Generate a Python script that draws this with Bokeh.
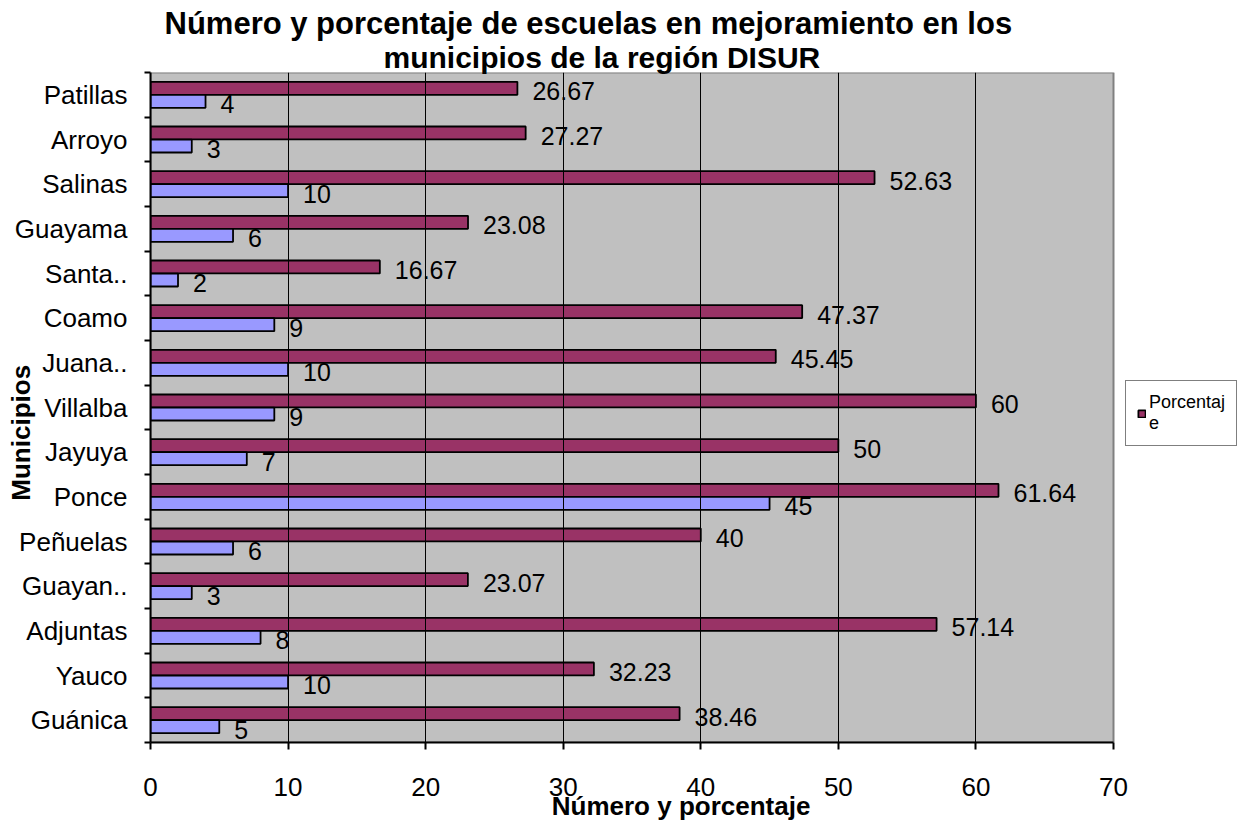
from bokeh.plotting import figure
from bokeh.models import (ColumnDataSource, FixedTicker, Legend, LegendItem, Range1d, Title)
from bokeh.core.properties import value
from bokeh.embed import file_html
from bokeh.resources import INLINE

municipios = ["Patillas", "Arroyo", "Salinas", "Guayama", "Santa..", "Coamo", "Juana..",
              "Villalba", "Jayuya", "Ponce", "Peñuelas", "Guayan..", "Adjuntas", "Yauco", "Guánica"]
porcentaje = [26.67, 27.27, 52.63, 23.08, 16.67, 47.37, 45.45, 60, 50, 61.64, 40, 23.07, 57.14, 32.23, 38.46]
numero = [4, 3, 10, 6, 2, 9, 10, 9, 7, 45, 6, 3, 8, 10, 5]
x_ticks = [0, 10, 20, 30, 40, 50, 60, 70]
x_max = 70

FONT = "Liberation Sans"
NB = "\u00a0"
n = len(municipios)
centers = [n - i - 0.5 for i in range(n)]

src = ColumnDataSource(dict(
    c=centers,
    yp=[c + 0.146 for c in centers],
    yn=[c - 0.146 for c in centers],
    p=porcentaje,
    nval=numero,
    plab=[("%g" % v) for v in porcentaje],
    nlab=[str(v) for v in numero],
))

# plot area is 963 px for 0..70; the frame extends to the right edge to hold the legend
px_per_unit = 963 / x_max
x_right = (1240 - 150) / px_per_unit

p = figure(width=1240, height=837, output_backend="svg", toolbar_location=None,
           x_range=Range1d(0, x_right), y_range=Range1d(0, n),
           min_border_left=150, min_border_right=0, min_border_top=72, min_border_bottom=95)

p.background_fill_color = "white"
p.border_fill_color = "white"
p.outline_line_color = None

# grey plotting area (0..70)
p.quad(left=0, right=x_max, bottom=0, top=n, fill_color="#C0C0C0",
       line_color="#808080", line_width=2)

rp = p.hbar(y="yp", left=0, right="p", height=0.29, source=src,
            fill_color="#993366", line_color="black", line_width=1.8)
rn = p.hbar(y="yn", left=0, right="nval", height=0.29, source=src,
            fill_color="#9999FF", line_color="black", line_width=1.8)

p.text(x="p", y="yp", text="plab", source=src, x_offset=15, y_offset=3,
       text_font=value(FONT), text_font_size="25px", text_color="black",
       text_align="left", text_baseline="middle")
p.text(x="nval", y="yn", text="nlab", source=src, x_offset=15, y_offset=3,
       text_font=value(FONT), text_font_size="25px", text_color="black",
       text_align="left", text_baseline="middle")

# grid
p.ygrid.grid_line_color = None
p.xgrid.grid_line_color = "black"
p.xgrid.grid_line_width = 1
p.xgrid.ticker = FixedTicker(ticks=x_ticks[1:-1])
p.xgrid.level = "glyph"

# x axis
p.xaxis.ticker = FixedTicker(ticks=x_ticks)
p.xaxis.bounds = (0, x_max)
p.xaxis.axis_line_color = "black"
p.xaxis.axis_line_width = 2
p.xaxis.major_tick_out = 7
p.xaxis.major_tick_in = 0
p.xaxis.major_tick_line_width = 2
p.xaxis.minor_tick_line_color = None
p.xaxis.major_label_standoff = 28
p.xaxis.major_label_text_font = FONT
p.xaxis.major_label_text_font_size = "26px"
p.xaxis.major_label_text_color = "black"
p.xaxis.axis_label = "Número y porcentaje" + NB * 4
p.xaxis.axis_label_text_font = FONT
p.xaxis.axis_label_text_font_size = "26px"
p.xaxis.axis_label_text_font_style = "bold"
p.xaxis.axis_label_text_color = "black"
p.xaxis.axis_label_standoff = -8

# y axis
p.yaxis.ticker = FixedTicker(ticks=centers, minor_ticks=list(range(n + 1)))
p.yaxis.major_label_overrides = {c: m for c, m in zip(centers, municipios)}
p.yaxis.axis_line_color = "black"
p.yaxis.axis_line_width = 2
p.yaxis.major_tick_out = 0
p.yaxis.major_tick_in = 0
p.yaxis.minor_tick_out = 6
p.yaxis.minor_tick_in = 0
p.yaxis.minor_tick_line_width = 2
p.yaxis.minor_tick_line_color = "black"
p.yaxis.major_label_standoff = 17
p.yaxis.major_label_text_font = FONT
p.yaxis.major_label_text_font_size = "26px"
p.yaxis.major_label_text_color = "black"
p.yaxis.axis_label = "Municipios" + NB * 7
p.yaxis.axis_label_text_font = FONT
p.yaxis.axis_label_text_font_size = "26px"
p.yaxis.axis_label_text_font_style = "bold"
p.yaxis.axis_label_text_color = "black"
p.yaxis.axis_label_standoff = -24

# titles (line 2 first: closest to the frame)
p.title.visible = False
t2 = Title(text="municipios de la región DISUR", align="left", offset=233, standoff=-3,
           text_font=FONT, text_font_size="30px", text_font_style="bold", text_color="black")
t1 = Title(text="Número y porcentaje de escuelas en mejoramiento en los", align="left", offset=14,
           standoff=-1, text_font=FONT, text_font_size="31px", text_font_style="bold",
           text_color="black")
p.add_layout(t2, "above")
p.add_layout(t1, "above")

legend = Legend(items=[LegendItem(label="Porcentaj\ne", renderers=[rp])],
                location=(975, 296), orientation="vertical",
                label_text_font=FONT, label_text_font_size="18px", label_text_color="black",
                glyph_width=9, glyph_height=9, label_standoff=3,
                padding=11, margin=0, spacing=0,
                border_line_color="black", border_line_width=1.5,
                background_fill_color="white", background_fill_alpha=1)
p.add_layout(legend)

open("out.html", "w").write(file_html(p, INLINE))
